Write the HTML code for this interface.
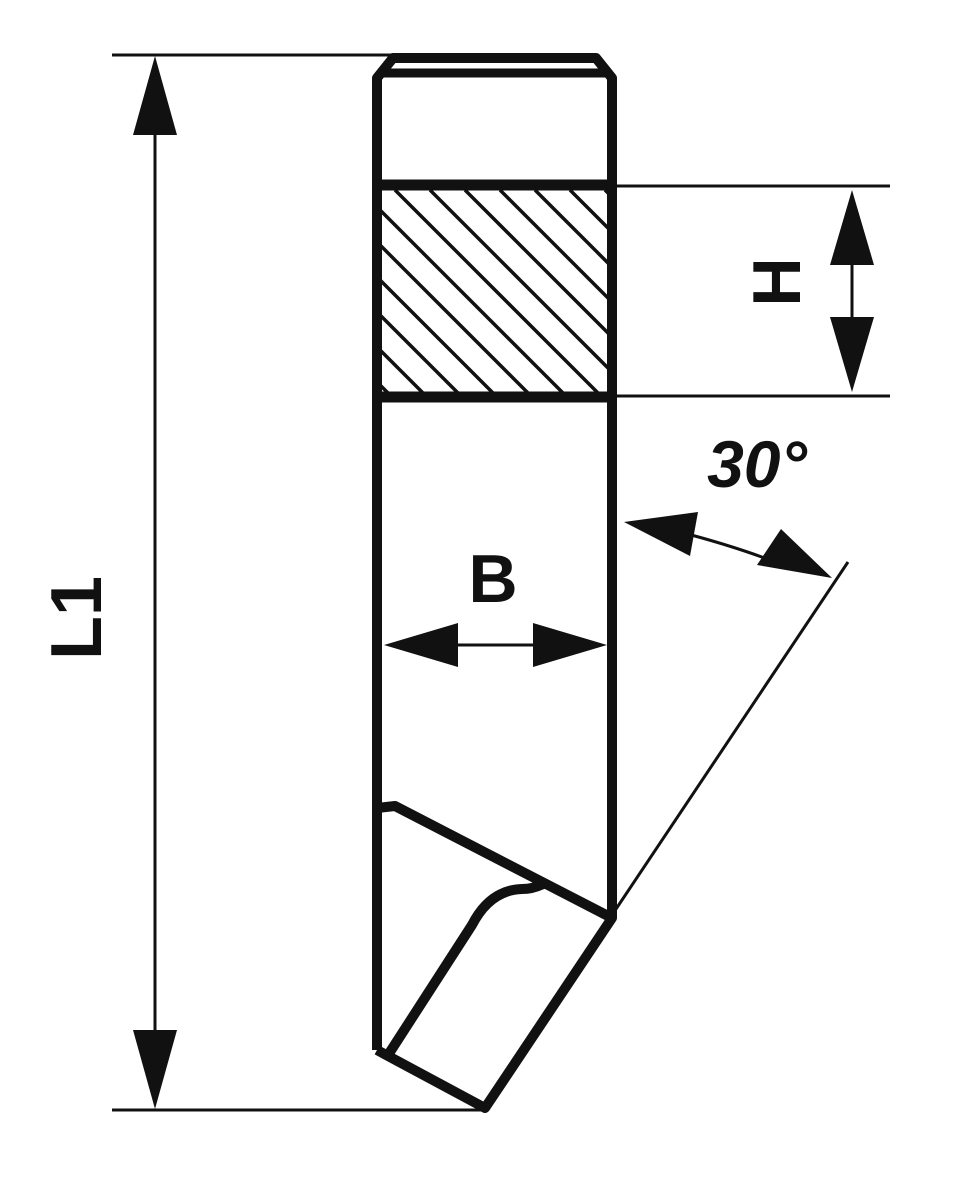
<!DOCTYPE html>
<html><head><style>body{margin:0;background:#fff}svg{display:block}</style></head><body>
<svg width="976" height="1198" viewBox="0 0 976 1198" xmlns="http://www.w3.org/2000/svg">
<defs>
<clipPath id="hc"><rect x="381" y="190" width="227" height="203"/></clipPath>
</defs>
<g stroke="#111" fill="none">
<g clip-path="url(#hc)" stroke-width="3.5">
<path d="M395,190 l210,210 M430,190 l210,210 M465,190 l210,210 M500,190 l210,210 M535,190 l210,210 M570,190 l210,210 M605,190 l210,210 M360,190 l210,210 M325,190 l210,210 M290,190 l210,210 M255,190 l210,210 M220,190 l210,210 M185,190 l210,210"/>
</g>
<path d="M377,1050 L377,78 L393,58 L596,58 L612,78 L612,918" stroke-width="10" stroke-linejoin="round"/>
<line x1="381" y1="73" x2="608" y2="73" stroke-width="9"/>
<line x1="393" y1="58" x2="381" y2="73" stroke-width="4"/>
<line x1="596" y1="58" x2="608" y2="73" stroke-width="4"/>
<line x1="377" y1="185" x2="612" y2="185" stroke-width="11"/>
<line x1="377" y1="397" x2="612" y2="397" stroke-width="11"/>
<path d="M377,808 L395,806 L612,918 L485,1108 L377,1050" stroke-width="10" stroke-linejoin="round"/>
<path d="M390,1052 L472,925 Q490,890 522,889 Q533,889 543,884" stroke-width="10"/>
<g stroke-width="3">
<line x1="112" y1="55" x2="395" y2="55"/>
<line x1="112" y1="1110" x2="485" y2="1110"/>
<line x1="155" y1="120" x2="155" y2="1045"/>
<line x1="612" y1="186" x2="890" y2="186"/>
<line x1="612" y1="396" x2="890" y2="396"/>
<line x1="852" y1="250" x2="852" y2="330"/>
<line x1="440" y1="645" x2="550" y2="645"/>
<line x1="612" y1="915" x2="848" y2="562"/>
<path d="M680,532 Q730,545 770,560"/>
</g>
</g>
<g fill="#111">
<polygon points="155,56 133,135 177,135"/>
<polygon points="155,1109 133,1030 177,1030"/>
<polygon points="852,190 830,265 874,265"/>
<polygon points="852,392 830,317 874,317"/>
<polygon points="384,645 458,623 458,667"/>
<polygon points="607,645 533,623 533,667"/>
<polygon points="624,522 698,512 690,556"/>
<polygon points="832,578 757,565 781,529"/>
</g>
<g font-family="Liberation Sans, sans-serif" font-weight="bold" fill="#111">
<text x="493" y="602" font-size="68" text-anchor="middle">B</text>
<text x="757" y="487" font-size="66" font-style="italic" text-anchor="middle">30°</text>
<text transform="translate(800,282) rotate(-90)" font-size="68" text-anchor="middle">H</text>
<text transform="translate(101,618) rotate(-90)" font-size="72" text-anchor="middle">L1</text>
</g>
</svg>
</body></html>
